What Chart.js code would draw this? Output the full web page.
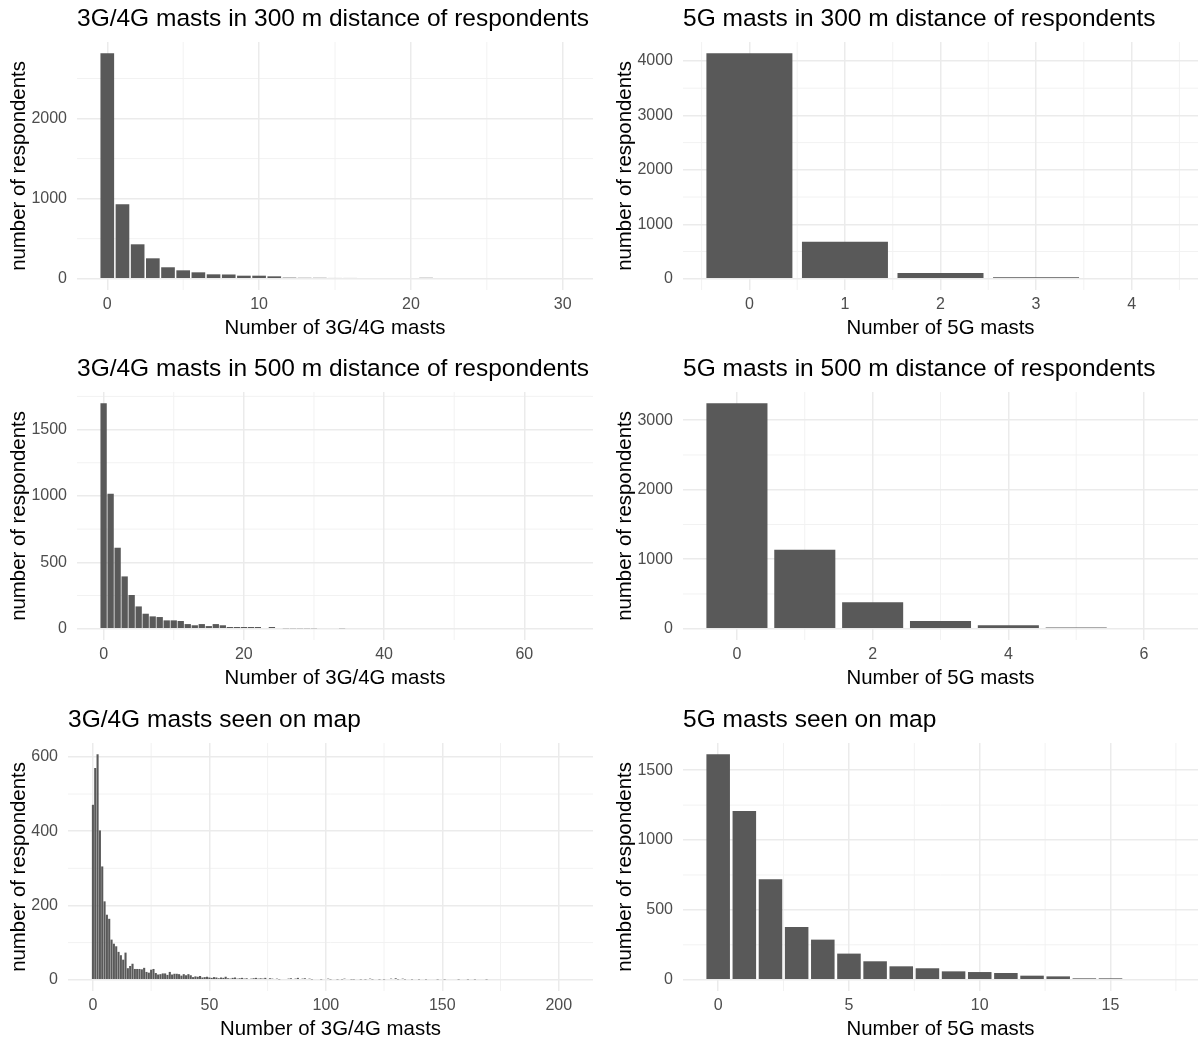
<!DOCTYPE html>
<html>
<head>
<meta charset="utf-8">
<script src="https://cdn.jsdelivr.net/npm/chart.js@4.4.0/dist/chart.umd.min.js"></script>
<style>
  body { margin: 0; background: #fff; width: 1198px; height: 1042px; overflow: hidden; position: relative; }
  canvas { position: absolute; }
</style>
</head>
<body>
<canvas id="c3g300" width="599" height="350" style="left:0;top:0"></canvas>
<canvas id="c5g300" width="592" height="350" style="left:606px;top:0"></canvas>
<canvas id="c3g500" width="599" height="350" style="left:0;top:350px"></canvas>
<canvas id="c5g500" width="592" height="350" style="left:606px;top:350px"></canvas>
<canvas id="c3gMap" width="599" height="350" style="left:0;top:701px"></canvas>
<canvas id="c5gMap" width="592" height="350" style="left:606px;top:701px"></canvas>
<script>
// counts of respondents per number of masts (index = number of masts)
// the last entry of each list is too small to see but sets the axis range
const counts3g300 = [2816, 931, 430, 255, 143, 105, 80, 55, 53, 38, 38, 30, 14, 12, 12, 10, 10, 9, 9, 0,
    0, 12, 0, 0, 0, 0, 0, 0, 0, 0, 0];
const counts5g300 = [4141, 680, 105, 25, 0];
const counts3g500 = [1698, 1017, 610, 394, 254, 168, 113, 93, 88, 63,
    63, 58, 35, 26, 35, 20, 35, 26, 13, 13,
    13, 13, 13, 0, 13, 0, 4, 4, 4, 4,
    4, 0, 0, 0, 4, 0, 0, 0, 0, 0,
    0, 0, 0, 0, 0, 0, 0, 0, 0, 0,
    0, 0, 0, 0, 0, 0, 0, 0, 0, 0,
    0, 0, 0, 0, 0, 0, 0];
const counts5g500 = [3244, 1135, 381, 111, 49, 18, 0];
const counts3gMap = [471, 570, 607, 402, 305, 211, 175, 164, 108, 97,
    90, 75, 66, 54, 73, 31, 37, 43, 29, 29,
    29, 28, 32, 21, 19, 27, 29, 18, 14, 15,
    17, 17, 13, 21, 14, 16, 16, 15, 11, 15,
    12, 15, 12, 7, 9, 8, 10, 6, 7, 8,
    6, 5, 7, 6, 4, 6, 5, 8, 4, 3,
    5, 6, 3, 4, 5, 3, 4, 2, 3, 4,
    5, 3, 4, 3, 5, 2, 4, 3, 2, 3,
    1, 0, 2, 0, 3, 4, 2, 3, 5, 2,
    3, 4, 2, 3, 1, 2, 0, 2, 1, 0,
    2, 3, 1, 2, 0, 1, 2, 1, 3, 0,
    2, 1, 1, 0, 2, 1, 0, 1, 2, 3,
    1, 0, 2, 1, 0, 1, 0, 0, 3, 2,
    4, 1, 2, 3, 1, 0, 2, 1, 2, 0,
    1, 0, 0, 1, 0, 0, 2, 0, 1, 0,
    0, 1, 0, 0, 0, 2, 0, 1, 0, 0,
    0, 1, 0, 0, 1, 0, 0, 0, 0, 1,
    0, 0, 0, 2, 0, 0, 0, 0, 0, 0,
    0, 0, 0, 0, 0, 0, 0, 0, 0, 0,
    0, 0, 0, 0, 0, 0, 0, 0, 0, 0,
    0, 0, 0, 0, 0];
const counts5gMap = [1614, 1208, 720, 378, 287, 187, 132, 96, 82, 60, 55, 48, 29, 24, 10, 10, 0, 0];

// axis breaks
const breaks3g300X = [0, 10, 20, 30];
const breaks3g300Y = [0, 1000, 2000];
const breaks5g300X = [0, 1, 2, 3, 4];
const breaks5g300Y = [0, 1000, 2000, 3000, 4000];
const breaks3g500X = [0, 20, 40, 60];
const breaks3g500Y = [0, 500, 1000, 1500];
const breaks5g500X = [0, 2, 4, 6];
const breaks5g500Y = [0, 1000, 2000, 3000];
const breaks3gMapX = [0, 50, 100, 150, 200];
const breaks3gMapY = [0, 200, 400, 600];
const breaks5gMapX = [0, 5, 10, 15];
const breaks5gMapY = [0, 500, 1000, 1500];

const FONT = '"Liberation Sans", Arial, sans-serif';
const GRID = '#EBEBEB';

// minor breaks halfway between the major ones, like ggplot does
function minorBreaks(major, lo, hi) {
    const step = major[1] - major[0];
    const ext = [major[0] - step, ...major, major[major.length - 1] + step];
    const out = [];
    for (let i = 0; i < ext.length - 1; i++) {
        const m = (ext[i] + ext[i + 1]) / 2;
        if (m >= lo && m <= hi) out.push(m);
    }
    return out;
}

const minorGrid = {
    id: 'minorGrid',
    beforeDraw(chart, args, opts) {
        const {ctx, chartArea: a, scales} = chart;
        ctx.save();
        ctx.strokeStyle = '#F2F2F2';
        ctx.lineWidth = 1;
        opts.x.forEach(v => {
            const px = scales.x.getPixelForValue(v);
            ctx.beginPath(); ctx.moveTo(px, a.top); ctx.lineTo(px, a.bottom); ctx.stroke();
        });
        opts.y.forEach(v => {
            const py = scales.y.getPixelForValue(v);
            ctx.beginPath(); ctx.moveTo(a.left, py); ctx.lineTo(a.right, py); ctx.stroke();
        });
        ctx.restore();
    }
};

function buildPanel(id, title, xTitle, counts, xBreaks, yBreaks, axisWidth, padRight) {
    const n = counts.length;
    const span = (n - 1) + 0.9;
    const xMin = -0.45 - 0.05 * span;
    const xMax = (n - 1) + 0.45 + 0.05 * span;
    const top = Math.max(...counts);
    const yMin = -0.05 * top;
    const yMax = 1.05 * top;

    const ctx = document.getElementById(id).getContext('2d');
    return new Chart(ctx, {
        type: 'bar',
        data: {
            datasets: [{
                data: counts.map((c, i) => ({x: i, y: c})),
                backgroundColor: '#595959',
                borderWidth: 0,
                inflateAmount: 0,
                barPercentage: 1,
                categoryPercentage: 0.9
            }]
        },
        plugins: [minorGrid],
        options: {
            responsive: false,
            animation: false,
            layout: {padding: {left: 0, top: 0, right: padRight, bottom: 0}},
            plugins: {
                legend: {display: false},
                tooltip: {enabled: false},
                title: {
                    display: true,
                    text: title,
                    align: 'start',
                    fullSize: false,
                    color: '#000',
                    font: {family: FONT, size: 24.5, weight: 'normal'},
                    padding: {top: 5, bottom: 7.6}
                },
                minorGrid: {
                    x: minorBreaks(xBreaks, xMin, xMax),
                    y: minorBreaks(yBreaks, yMin, yMax)
                }
            },
            scales: {
                x: {
                    type: 'linear',
                    min: xMin,
                    max: xMax,
                    offset: false,
                    afterBuildTicks: s => { s.ticks = xBreaks.map(v => ({value: v})); },
                    afterFit: s => { s.height = 60; },
                    grid: {color: GRID, lineWidth: 1.5, drawTicks: false, offset: false},
                    border: {display: false},
                    ticks: {
                        color: '#4D4D4D', font: {family: FONT, size: 16}, padding: 5.4,
                        autoSkip: false, maxRotation: 0, callback: v => v
                    },
                    title: {
                        display: true, text: xTitle, color: '#000',
                        font: {family: FONT, size: 20.4}, padding: {top: 0, bottom: 9.8}
                    }
                },
                y: {
                    min: yMin,
                    max: yMax,
                    afterBuildTicks: s => { s.ticks = yBreaks.map(v => ({value: v})); },
                    afterFit: s => { s.width = axisWidth; },
                    grid: {color: GRID, lineWidth: 1.5, drawTicks: false},
                    border: {display: false},
                    ticks: {
                        color: '#4D4D4D', font: {family: FONT, size: 16}, padding: 10,
                        autoSkip: false, callback: v => v
                    },
                    title: {
                        display: true, text: 'number of respondents', color: '#000',
                        font: {family: FONT, size: 20.4}, padding: {top: 7, bottom: 0}
                    }
                }
            }
        }
    });
}

buildPanel('c3g300', '3G/4G masts in 300 m distance of respondents', 'Number of 3G/4G masts',
    counts3g300, breaks3g300X, breaks3g300Y, 77, 6);
buildPanel('c5g300', '5G masts in 300 m distance of respondents', 'Number of 5G masts',
    counts5g300, breaks5g300X, breaks5g300Y, 77, 0);
buildPanel('c3g500', '3G/4G masts in 500 m distance of respondents', 'Number of 3G/4G masts',
    counts3g500, breaks3g500X, breaks3g500Y, 77, 6);
buildPanel('c5g500', '5G masts in 500 m distance of respondents', 'Number of 5G masts',
    counts5g500, breaks5g500X, breaks5g500Y, 77, 0);
buildPanel('c3gMap', '3G/4G masts seen on map', 'Number of 3G/4G masts',
    counts3gMap, breaks3gMapX, breaks3gMapY, 68, 6);
buildPanel('c5gMap', '5G masts seen on map', 'Number of 5G masts',
    counts5gMap, breaks5gMapX, breaks5gMapY, 77, 0);
</script>
</body>
</html>
